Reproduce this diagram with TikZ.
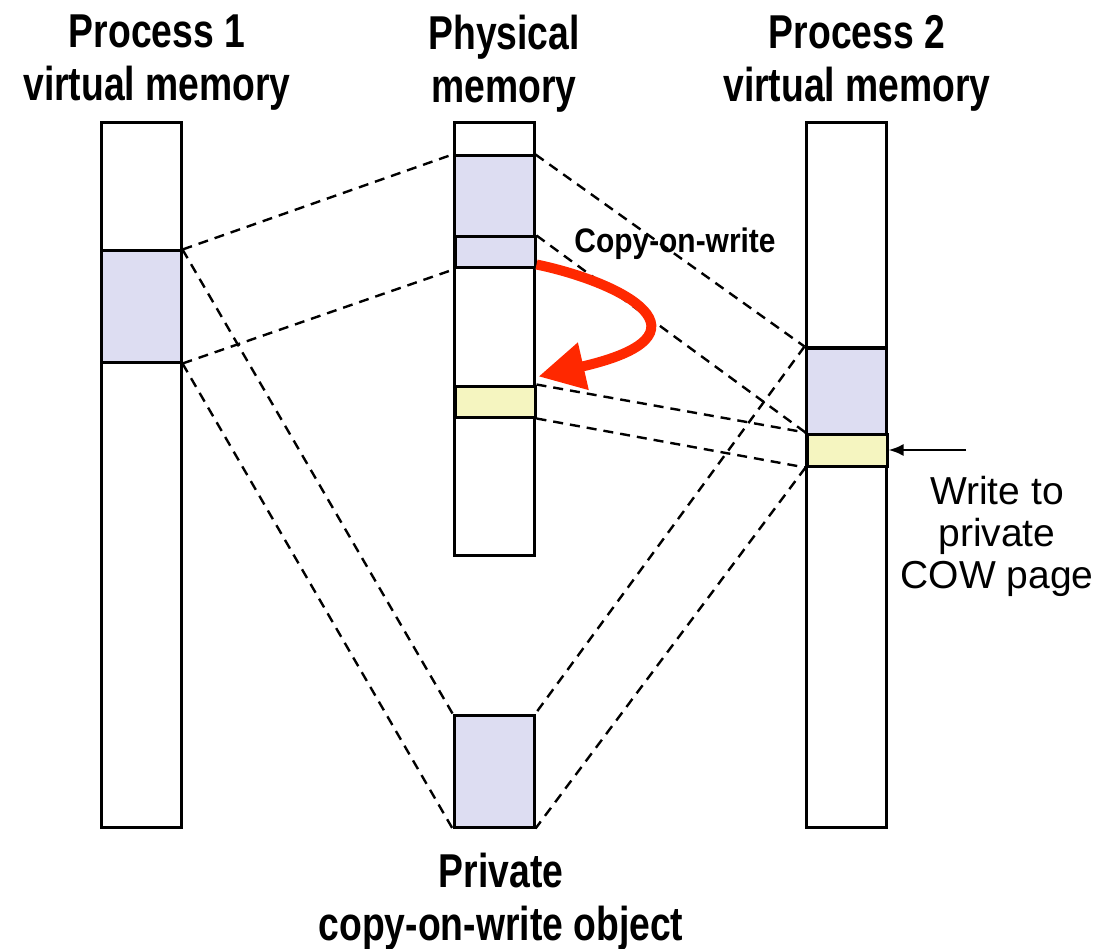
\documentclass[tikz,border=0pt]{standalone}
\usepackage{fontspec}
\setmainfont{Liberation Sans}
\newfontfamily\titlefont[FakeStretch=0.785]{Liberation Sans}
\newfontfamily\cowfont[FakeStretch=0.88]{Liberation Sans}
\usetikzlibrary{arrows.meta}
\definecolor{memblue}{RGB}{221,221,242}
\definecolor{memyellow}{RGB}{245,245,192}
\definecolor{cowred}{RGB}{255,40,0}
\tikzset{
  column/.style={draw=black, line width=3pt, fill=white, inner sep=0pt, minimum width=80pt},
  region/.style={draw=black, line width=3pt, inner sep=0pt, minimum width=80pt},
  mapline/.style={draw=black, line width=2.4pt, dash pattern=on 10pt off 7pt},
  title/.style={font=\titlefont\bfseries\fontsize{47.5}{53}\selectfont, align=center, inner sep=0pt, anchor=north},
  note/.style={font=\fontsize{39}{42}\selectfont, align=center, inner sep=0pt, anchor=north}
}
\begin{document}
\begin{tikzpicture}[x=1pt,y=-1pt]
\useasboundingbox (0,0) rectangle (1097,949);
% columns
\node[column, minimum height=704pt] (p1) at (141,475) {};
\node[column, minimum height=432pt] (ph) at (494,339) {};
\node[column, minimum height=704pt] (p2) at (846,475) {};
% regions
\node[region, fill=memblue, minimum height=111pt] (p1r) at (141,306.5) {};
\node[region, fill=memblue, minimum height=81pt] (phA) at (494,196.5) {};
\node[region, fill=memblue, minimum height=31pt] (phB) at (495,252.5) {};
\node[region, fill=memyellow, minimum height=31pt] (phY) at (495,401.5) {};
\node[region, fill=memblue, minimum height=86pt] (p2A) at (846,391) {};
\node[region, fill=memyellow, minimum height=32pt] (p2Y) at (847,450) {};
\node[region, fill=memblue, minimum height=112pt] (obj) at (494,771) {};
% mapping lines
\draw[mapline] (p1r.north east) -- (phA.north west);
\draw[mapline] (p1r.south east) -- (phB.south west);
\draw[mapline] (p1r.north east) -- (obj.north west);
\draw[mapline] (p1r.south east) -- (obj.south west);
\draw[mapline] (phA.north east) -- (p2A.north west);
\draw[mapline] (phB.north east) -- (p2Y.north west);
\draw[mapline] (phY.north east) -- (p2Y.north west);
\draw[mapline] (phY.south east) -- (p2Y.south west);
\draw[mapline] (p2A.north west) -- (obj.north east);
\draw[mapline] (p2Y.south west) -- (obj.south east);
% copy-on-write arrow
\draw[cowred, line width=10pt, -{Triangle[length=46pt,width=46pt]}]
  ([yshift=5pt]phB.south east) .. controls (625,283) and (720,335) .. ([shift={(2pt,8pt)}]phY.north east);
\node[font=\cowfont\bfseries\fontsize{34}{40}\selectfont, inner sep=0pt, anchor=base] (cowlbl) at (675,253) {Copy-on-write};
% write arrow
\coordinate (wstart) at (966,450);
\draw[line width=2.4pt, -{Latex[length=15pt,width=12pt]}] (wstart) -- (p2Y.east);
\node[note] (wnote) at (997,476) {Write to\\private\\COW page};
% titles
\node[title] (t1) at (157,15) {Process 1\\virtual memory};
\node[title] (t2) at (504,15) {Physical\\memory};
\node[title] (t3) at (857,15) {Process 2\\virtual memory};
\node[title] (t4) at (501,853) {Private\\copy-on-write object};
\end{tikzpicture}
\end{document}
